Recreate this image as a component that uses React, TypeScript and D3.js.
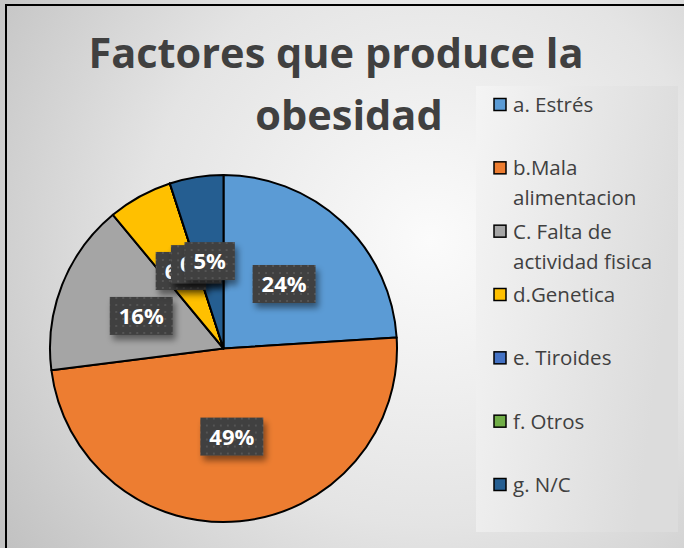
import React, { useEffect, useRef } from 'react';
import * as d3 from 'd3';

// data
const categories = [
  'a. Estrés',
  'b.Mala alimentacion',
  'C. Falta de actividad fisica',
  'd.Genetica',
  'e. Tiroides',
  'f. Otros',
  'g. N/C',
];
const percentages = [24, 49, 16, 6, 0, 0, 5];
const sliceColors = ['#5B9BD5', '#ED7D31', '#A5A5A5', '#FFC000', '#4472C4', '#70AD47', '#255E91'];
const titleLines = ['Factores que produce la', 'obesidad'];

const W = 684;
const H = 548;

const App: React.FC = () => {
  const ref = useRef<SVGSVGElement | null>(null);

  useEffect(() => {
    if (ref.current) draw();
  }, []);

  const draw = () => {
    const svg = d3.select(ref.current);
    svg.selectAll('*').remove();

    const defs = svg.append('defs');

    const bg = defs.append('radialGradient')
      .attr('id', 'bg')
      .attr('gradientUnits', 'userSpaceOnUse')
      .attr('cx', 430).attr('cy', 240).attr('r', 520);
    bg.append('stop').attr('offset', '0').attr('stop-color', '#fbfbfb');
    bg.append('stop').attr('offset', '0.55').attr('stop-color', '#e4e4e4');
    bg.append('stop').attr('offset', '1').attr('stop-color', '#c2c2c2');

    const lg = defs.append('linearGradient')
      .attr('id', 'legbg')
      .attr('x1', 0).attr('y1', 0).attr('x2', 1).attr('y2', 0.3);
    lg.append('stop').attr('offset', '0').attr('stop-color', '#f4f4f4');
    lg.append('stop').attr('offset', '1').attr('stop-color', '#dcdcdc');

    const pat = defs.append('pattern')
      .attr('id', 'dots')
      .attr('patternUnits', 'userSpaceOnUse')
      .attr('width', 7).attr('height', 7);
    pat.append('rect').attr('width', 7).attr('height', 7).attr('fill', '#3f3f3f');
    pat.append('rect').attr('x', 2).attr('y', 2).attr('width', 2).attr('height', 2).attr('fill', '#555555');

    const shadow = defs.append('filter')
      .attr('id', 'shadow')
      .attr('x', '-30%').attr('y', '-30%').attr('width', '160%').attr('height', '180%');
    shadow.append('feDropShadow')
      .attr('dx', 3).attr('dy', 5).attr('stdDeviation', 3)
      .attr('flood-color', '#000').attr('flood-opacity', 0.45);

    // background + frame
    svg.append('rect')
      .attr('x', 0).attr('y', 0).attr('width', W).attr('height', H)
      .attr('fill', 'url(#bg)');
    svg.append('rect')
      .attr('x', 476).attr('y', 86).attr('width', 202).attr('height', 446)
      .attr('fill', 'url(#legbg)');
    svg.append('rect')
      .attr('x', 6).attr('y', 5).attr('width', W + 20).attr('height', H + 20)
      .attr('fill', 'none').attr('stroke', '#000').attr('stroke-width', 2);

    // title
    const title = svg.append('text')
      .attr('font-family', '"Open Sans", sans-serif')
      .attr('font-weight', 700)
      .attr('font-size', 41.5)
      .attr('fill', '#404040')
      .attr('text-anchor', 'middle');
    title.append('tspan').attr('x', 336).attr('y', 68).text(titleLines[0]);
    title.append('tspan').attr('x', 349).attr('y', 130).text(titleLines[1]);

    // pie
    const cx = 223.5;
    const cy = 348.5;
    const r = 173.5;

    const pie = d3.pie<number>().sort(null).value(d => d);
    const arcs = pie(percentages);
    const arc = d3.arc<d3.PieArcDatum<number>>().innerRadius(0).outerRadius(r);
    const labelArc = d3.arc<d3.PieArcDatum<number>>().innerRadius(r * 0.51).outerRadius(r * 0.51);

    const g = svg.append('g').attr('transform', `translate(${cx},${cy})`);

    g.selectAll('path.slice')
      .data(arcs)
      .enter().append('path')
      .attr('class', 'slice')
      .attr('d', arc)
      .attr('fill', (d, i) => sliceColors[i])
      .attr('stroke', '#000')
      .attr('stroke-width', 2)
      .attr('stroke-linejoin', 'round');

    // data labels (they overlap near the top, as in the original)
    arcs.forEach((d, i) => {
      const [lx, ly] = labelArc.centroid(d);
      const lab = g.append('g').attr('transform', `translate(${lx},${ly})`);
      const box = lab.append('rect')
        .attr('fill', 'url(#dots)')
        .attr('filter', 'url(#shadow)');
      const t = lab.append('text')
        .attr('font-family', '"Open Sans", sans-serif')
        .attr('font-weight', 700)
        .attr('font-size', 22)
        .attr('fill', '#ffffff')
        .attr('text-anchor', 'middle')
        .attr('y', 8)
        .text(`${percentages[i]}%`);
      const tw = (t.node() as SVGTextElement).getComputedTextLength();
      const bw = tw + 18;
      box.attr('x', -bw / 2).attr('y', -19).attr('width', bw).attr('height', 38);
    });

    // legend
    const ly = d3.scalePoint<string>().domain(categories).range([105, 485]);
    const legend = svg.append('g');
    categories.forEach((c, i) => {
      const y = ly(c) || 0;
      legend.append('rect')
        .attr('x', 494).attr('y', y - 6.5)
        .attr('width', 12).attr('height', 12)
        .attr('fill', sliceColors[i])
        .attr('stroke', '#000').attr('stroke-width', 1.5);
      const txt = legend.append('text')
        .attr('font-family', '"Open Sans", sans-serif')
        .attr('font-size', 20.5)
        .attr('fill', '#404040');
      // greedy wrap to the legend width
      const words = c.split(' ');
      let line: string[] = [];
      let ln = 0;
      let tspan = txt.append('tspan').attr('x', 513).attr('y', y + 7);
      words.forEach(w => {
        line.push(w);
        tspan.text(line.join(' '));
        if ((tspan.node() as SVGTSpanElement).getComputedTextLength() > 160 && line.length > 1) {
          line.pop();
          tspan.text(line.join(' '));
          line = [w];
          ln += 1;
          tspan = txt.append('tspan').attr('x', 513).attr('y', y + 7 + ln * 30).text(w);
        }
      });
    });
  };

  return (
    <svg
      ref={ref}
      width={W}
      height={H}
      style={{ position: 'absolute', left: 0, top: 0, display: 'block' }}
    />
  );
};

export default App;
